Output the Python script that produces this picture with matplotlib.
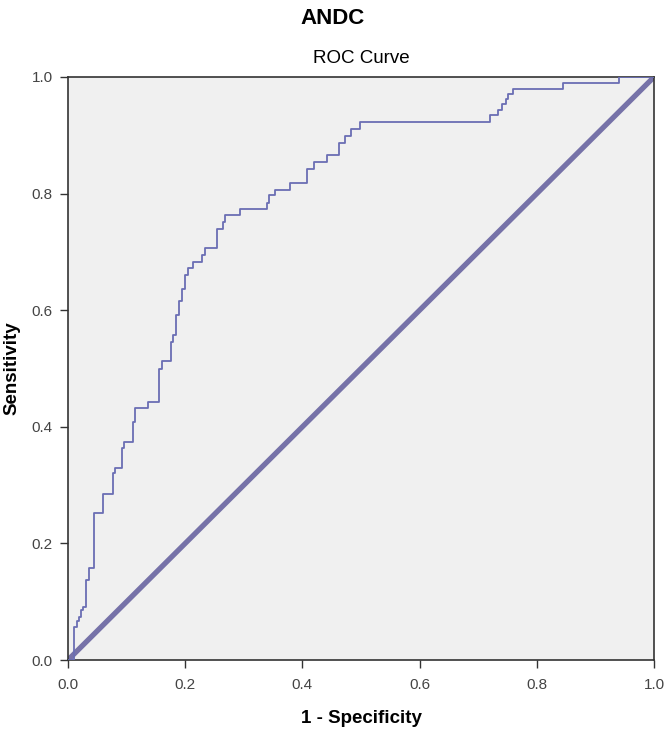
import matplotlib
matplotlib.use("Agg")
import matplotlib.pyplot as plt

plt.rcParams['font.family'] = ['Liberation Sans', 'DejaVu Sans']

fpr = [0, 0.010, 0.015, 0.019, 0.022, 0.026, 0.031, 0.036, 0.045, 0.060, 0.076, 0.080,
       0.092, 0.096, 0.111, 0.114, 0.137, 0.155, 0.160, 0.175, 0.180, 0.185, 0.189,
       0.194, 0.200, 0.205, 0.214, 0.229, 0.234, 0.254, 0.265, 0.268, 0.294, 0.339,
       0.343, 0.353, 0.378, 0.407, 0.419, 0.442, 0.462, 0.473, 0.483, 0.498, 0.720,
       0.734, 0.741, 0.747, 0.751, 0.760, 0.845, 0.941, 1.0]
tpr = [0, 0.057, 0.067, 0.074, 0.085, 0.091, 0.137, 0.158, 0.252, 0.285, 0.320, 0.329,
       0.363, 0.374, 0.409, 0.433, 0.443, 0.500, 0.513, 0.546, 0.557, 0.592, 0.615,
       0.636, 0.660, 0.672, 0.683, 0.695, 0.706, 0.740, 0.752, 0.763, 0.773, 0.784,
       0.798, 0.807, 0.819, 0.842, 0.855, 0.866, 0.887, 0.899, 0.911, 0.922, 0.935,
       0.943, 0.953, 0.962, 0.970, 0.979, 0.990, 1.0, 1.0]
ref = [0, 1]
ticks = [0.0, 0.2, 0.4, 0.6, 0.8, 1.0]
tick_labels = ["0.0", "0.2", "0.4", "0.6", "0.8", "1.0"]

fig = plt.figure(figsize=(6.65, 7.29), dpi=100)
ax = fig.add_axes([68/665, 69/729, 586/665, 583/729])
ax.set_facecolor('#F0F0F0')

ax.plot(ref, ref, color='#7672A8', lw=3.8, solid_capstyle='butt', zorder=2)
ax.plot(fpr, tpr, color='#6A6EB4', lw=1.3, drawstyle='steps-post', zorder=3)

ax.set_xlim(0, 1)
ax.set_ylim(0, 1)
ax.set_xticks(ticks)
ax.set_xticklabels(tick_labels)
ax.set_yticks(ticks)
ax.set_yticklabels(tick_labels)
ax.tick_params(direction='out', length=6, width=1, colors='#333333', labelsize=11, pad=5)
ax.tick_params(axis='x', pad=7)
for lab in ax.get_xticklabels() + ax.get_yticklabels():
    lab.set_color('#444444')
for s in ax.spines.values():
    s.set_color('#333333')
    s.set_linewidth(1.2)

ax.set_xlabel('1 - Specificity', fontsize=13.5, fontweight='bold', labelpad=13)
ax.set_ylabel('Sensitivity', fontsize=13.5, fontweight='bold', labelpad=8)
ax.set_title('ROC Curve', fontsize=13.5, pad=10)
fig.text(0.5, 1 - 18/729, 'ANDC', ha='center', va='center', fontsize=16, fontweight='bold')

fig.savefig('out.png', dpi=100)
